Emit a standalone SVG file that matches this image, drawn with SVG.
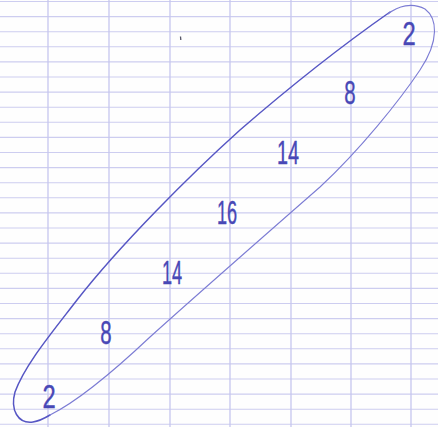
<svg xmlns="http://www.w3.org/2000/svg" width="438" height="427" viewBox="0 0 438 427">
<style>
.h{stroke:#cdcdf0;stroke-width:1.1}
.v{stroke:#c6c6ef;stroke-width:1.3}
.num{font-family:"Liberation Sans",Arial,sans-serif;font-size:33px;fill:#4848b6;stroke:#4848b6;stroke-width:0.4;text-anchor:middle}
.loopA{fill:none;stroke:#5656c4;stroke-width:1.5;stroke-linecap:round}
.loopB{fill:none;stroke:#7c7cd4;stroke-width:1.1;stroke-linecap:round}
</style>
<rect width="438" height="427" fill="#fefefe"/>
<g id="grid">
<path class="h" d="M0 1.5H438M0 16.6H438M0 31.7H438M0 46.8H438M0 61.9H438M0 77H438M0 92.1H438M0 107.2H438M0 122.3H438M0 137.4H438M0 152.5H438M0 167.6H438M0 182.7H438M0 197.8H438M0 212.9H438M0 228H438M0 243.1H438M0 258.2H438M0 273.3H438M0 288.4H438M0 303.5H438M0 318.6H438M0 333.7H438M0 348.8H438M0 363.9H438M0 379H438M0 394.1H438M0 409.2H438M0 424.3H438"/>
<path class="v" d="M48 0V427M109 0V427M170 0V427M230 0V427M291 0V427M351 0V427M411 0V427"/>
</g>
<g id="loop">
<path class="loopA" d="M390 12 C350 40 300 78 240 130 C190 175 120 245 77 300 C50 335 25 365 15 392 C10 410 18 424 33 422 C40 421 45 418 50 415"/>
<path class="loopB" d="M50 415 C80 400 115 370 150 337 C200 292 280 222 320 187 C360 150 400 100 420 70 C440 40 437 18 425 9 C412 2 398 6 388 14"/>
</g>
<path d="M180.5 36.5 L180.8 40" stroke="#555566" stroke-width="1.3"/>
<g id="numbers">
<text class="num" transform="translate(409,45) scale(0.72,1)">2</text>
<text class="num" transform="translate(350,104) scale(0.62,1)">8</text>
<text class="num" transform="translate(288,164) scale(0.6,1)">14</text>
<text class="num" transform="translate(227,224) scale(0.55,1)">16</text>
<text class="num" transform="translate(172,284) scale(0.55,1)">14</text>
<text class="num" transform="translate(106,344) scale(0.62,1)">8</text>
<text class="num" transform="translate(49,408) scale(0.72,1)">2</text>
</g>
</svg>
